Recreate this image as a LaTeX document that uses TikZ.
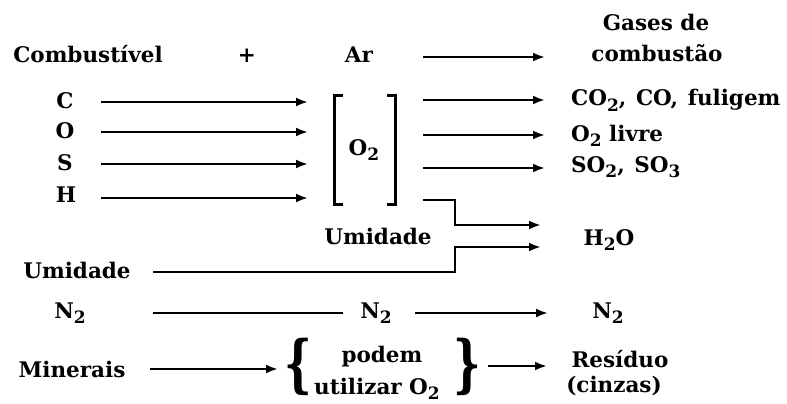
\documentclass[tikz,border=0pt]{standalone}
\usepackage{fontspec}
\setmainfont{DejaVu Serif}
\usepackage{graphicx}
\usetikzlibrary{arrows.meta}
\newcommand\sbs[1]{\raisebox{-0.27em}{\fontsize{17}{17}\selectfont #1}}
\begin{document}
\begin{tikzpicture}[x=1pt,y=-1pt,
  txt/.style={inner sep=0pt,font=\fontsize{21.5}{30}\selectfont\bfseries},
  arr/.style={line width=2.9pt,-{Latex[length=12pt,width=9pt]}},
  ln/.style={line width=2.9pt},
  brk/.style={line width=3pt}]
\useasboundingbox (0,0) rectangle (787,404);
% column coordinates
\coordinate (aL) at (101,0);
\coordinate (aR) at (308,0);
\coordinate (bL) at (423,0);
\coordinate (bR) at (545,0);
\coordinate (jx) at (455,0);
\coordinate (hR) at (541,0);
\coordinate (uL) at (153,0);
% header
\node[txt,anchor=base] (comb) at (88,63) {Combustível};
\node[txt,anchor=base] (plus) at (247,63) {+};
\node[txt,anchor=base] (ar) at (359,63) {Ar};
\node[txt,anchor=base] (gases1) at (656,31) {Gases de};
\node[txt,anchor=base] (gases2) at (657,62) {combustão};
\coordinate (arY) at (0,57);
\draw[arr] (arY -| bL) -- (arY -| bR);
% elements
\node[txt,anchor=base] (C) at (65,108) {C};
\node[txt,anchor=base] (O) at (65,138) {O};
\node[txt,anchor=base] (S) at (65,170) {S};
\node[txt,anchor=base] (H) at (66,202) {H};
\coordinate (cY) at (0,102);
\coordinate (oY) at (0,132);
\coordinate (sY) at (0,164);
\coordinate (hY) at (0,198);
\draw[arr] (cY -| aL) -- (cY -| aR);
\draw[arr] (oY -| aL) -- (oY -| aR);
\draw[arr] (sY -| aL) -- (sY -| aR);
\draw[arr] (hY -| aL) -- (hY -| aR);
% O2 bracket
\node[minimum width=60pt,minimum height=108pt,inner sep=0pt] (grp) at (365,150) {};
\node[txt,anchor=base] (o2) at (364,155) {O\sbs{2}};
\draw[brk] ([xshift=8pt]grp.north west) -- (grp.north west) -- (grp.south west) -- ([xshift=8pt]grp.south west);
\draw[brk] ([xshift=-8pt]grp.north east) -- (grp.north east) -- (grp.south east) -- ([xshift=-8pt]grp.south east);
% products
\node[txt,anchor=base west] (co2) at (571,106) {CO\sbs{2},\hspace{0.45em}CO,\hspace{0.45em}fuligem};
\node[txt,anchor=base west] (o2l) at (571,141) {O\sbs{2} livre};
\node[txt,anchor=base west] (so2) at (571,172) {SO\sbs{2},\hspace{0.45em}SO\sbs{3}};
\coordinate (p1) at (0,100);
\coordinate (p2) at (0,135);
\coordinate (p3) at (0,168);
\draw[arr] (p1 -| bL) -- (p1 -| bR);
\draw[arr] (p2 -| bL) -- (p2 -| bR);
\draw[arr] (p3 -| bL) -- (p3 -| bR);
% water
\node[txt,anchor=base] (um1) at (378,244) {Umidade};
\node[txt,anchor=base] (um2) at (77,278) {Umidade};
\node[txt,anchor=base] (h2o) at (609,245) {H\sbs{2}O};
\coordinate (w0) at (0,200);
\coordinate (w1) at (0,225);
\coordinate (w2) at (0,247);
\coordinate (w3) at (0,272);
\draw[arr] (w0 -| bL) -- (w0 -| jx) -- (w1 -| jx) -- (w1 -| hR);
\draw[arr] (w3 -| uL) -- (w3 -| jx) -- (w2 -| jx) -- (w2 -| hR);
% nitrogen
\node[txt,anchor=base] (n2a) at (70,318) {N\sbs{2}};
\node[txt,anchor=base] (n2b) at (376,318) {N\sbs{2}};
\node[txt,anchor=base] (n2c) at (608,318) {N\sbs{2}};
\coordinate (nY) at (0,313);
\coordinate (nA) at (343,0);
\coordinate (nB) at (415,0);
\coordinate (nC) at (548,0);
\draw[ln] (nY -| uL) -- (nY -| nA);
\draw[arr] (nY -| nB) -- (nY -| nC);
% minerals
\node[txt,anchor=base] (min) at (72,377) {Minerais};
\node[txt,anchor=base] (pod1) at (382,362) {podem};
\node[txt,anchor=base] (pod2) at (377,394) {utilizar O\sbs{2}};
\node[txt,inner sep=0pt] (lbr) at (298,367) {\scalebox{2.0}[2.9]{\{}};
\node[txt,inner sep=0pt] (rbr) at (467,367) {\scalebox{2.0}[2.9]{\}}};
\node[txt,anchor=base] (res1) at (620,367) {Resíduo};
\node[txt,anchor=base] (res2) at (614,392) {(cinzas)};
\coordinate (mY) at (0,369);
\coordinate (mA) at (150,0);
\coordinate (mB) at (278,0);
\coordinate (rY) at (0,366);
\coordinate (rA) at (488,0);
\coordinate (rB) at (547,0);
\draw[arr] (mY -| mA) -- (mY -| mB);
\draw[arr] (rY -| rA) -- (rY -| rB);
\end{tikzpicture}
\end{document}
